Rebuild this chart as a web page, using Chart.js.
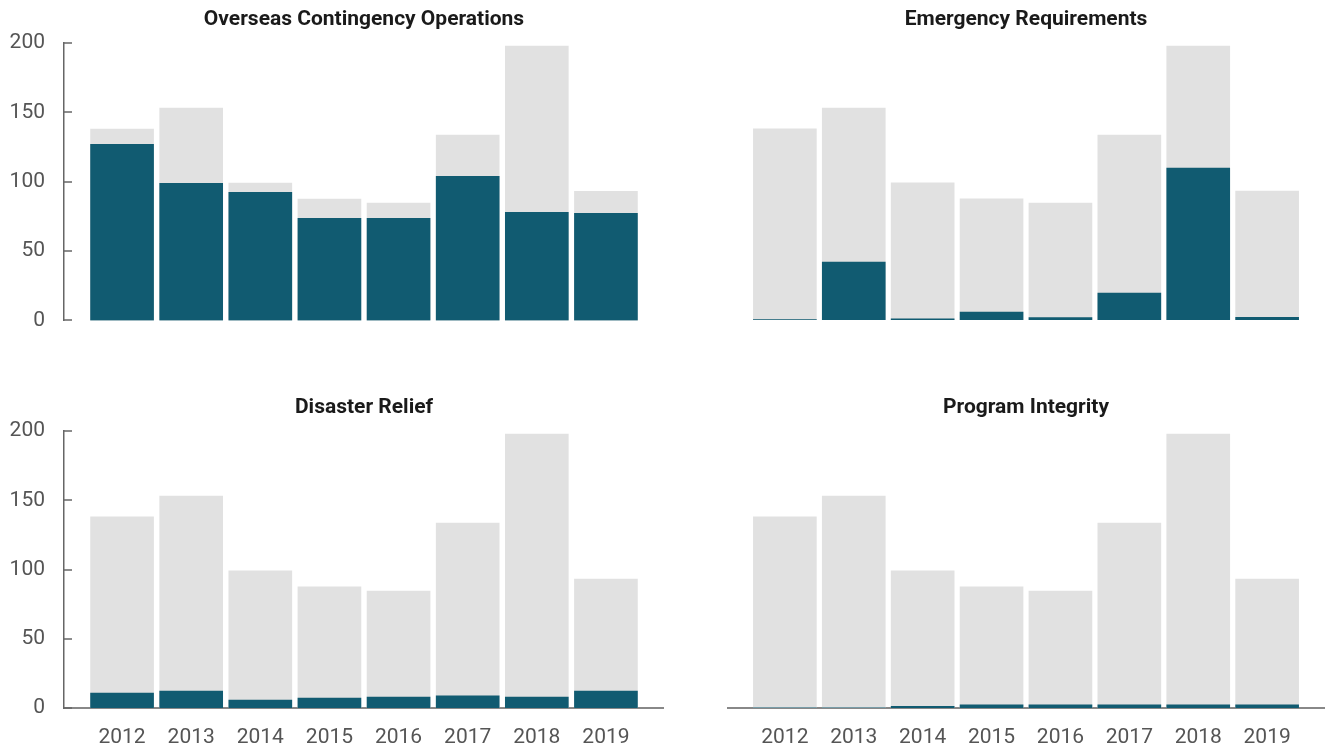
<!DOCTYPE html>
<html>
<head>
<meta charset="utf-8">
<script src="https://cdn.jsdelivr.net/npm/chart.js@4"></script>
<style>
  html, body { margin: 0; padding: 0; background: #fff; }
  #page { position: relative; width: 1325px; height: 746px; }
  .panel { position: absolute; }
</style>
</head>
<body>
<div id="page">
  <div class="panel" style="left:0;top:0;width:664px;height:344px"><canvas id="oco"></canvas></div>
  <div class="panel" style="left:727px;top:0;width:598px;height:340px"><canvas id="emergency"></canvas></div>
  <div class="panel" style="left:0;top:388px;width:664px;height:358px"><canvas id="disaster"></canvas></div>
  <div class="panel" style="left:727px;top:388px;width:598px;height:358px"><canvas id="integrity"></canvas></div>
</div>
<script>
// years + totals (gray bars, same in every panel)
const years = [2012, 2013, 2014, 2015, 2016, 2017, 2018, 2019];
const totals = [138, 153, 99, 87.4, 84.5, 133.6, 197.8, 93.1];

// share of each category (teal bars)
const ocoValues = [126.9, 98.9, 92.3, 73.6, 73.6, 103.9, 77.9, 77.2];
const emergencyValues = [0.3, 41.8, 0.8, 5.8, 1.8, 19.5, 109.6, 2];
const disasterValues = [10.8, 12.3, 5.8, 7.2, 7.9, 8.7, 7.9, 12.3];
const integrityValues = [0.2, 0.2, 1.2, 2.3, 2.3, 2.3, 2.3, 2.3];

const yTicks = [0, 50, 100, 150, 200];

const TEAL = '#115b71';
const GRAY = '#e1e1e1';
const FONT = 'Roboto, "Liberation Sans", sans-serif';

// y ticks in the reference point into the plot, chart.js draws them outward
const innerTicks = {
  id: 'innerTicks',
  afterDraw(chart) {
    const y = chart.scales.y;
    if (!y.options.display) return;
    const ctx = chart.ctx;
    const left = chart.chartArea.left;
    ctx.save();
    ctx.strokeStyle = '#666';
    ctx.lineWidth = 1.5;
    y.ticks.forEach(t => {
      const py = Math.round(y.getPixelForValue(t.value));
      ctx.beginPath();
      ctx.moveTo(left, py);
      ctx.lineTo(left + 8, py);
      ctx.stroke();
    });
    ctx.restore();
  }
};

function makePanel(id, title, values, showY, showX) {
  const ctx = document.getElementById(id);
  new Chart(ctx, {
    type: 'bar',
    data: {
      datasets: [
        {
          label: title,
          data: years.map((yr, i) => ({ x: yr, y: values[i] })),
          backgroundColor: TEAL,
          order: 0
        },
        {
          label: 'Total',
          data: years.map((yr, i) => ({ x: yr, y: totals[i] })),
          backgroundColor: GRAY,
          order: 1
        }
      ]
    },
    options: {
      responsive: true,
      maintainAspectRatio: false,
      animation: false,
      grouped: false,
      barThickness: 63,
      layout: { padding: 0 },
      plugins: {
        legend: { display: false },
        tooltip: { enabled: false },
        title: {
          display: true,
          text: title,
          fullSize: false,
          color: '#1a1a1a',
          font: { family: FONT, size: 21, weight: 'bold' },
          padding: { top: 7, bottom: 10.8 }
        }
      },
      scales: {
        x: {
          type: 'linear',
          min: 2011.16,
          max: 2019.84,
          offset: false,
          grid: { display: false, offset: false },
          border: { display: showX, color: '#888', width: 2 },
          ticks: {
            display: showX,
            stepSize: 1,
            includeBounds: false,
            autoSkip: false,
            maxRotation: 0,
            padding: 9,
            color: '#555',
            font: { family: FONT, size: 21 },
            callback: v => String(v)
          },
          afterFit: s => { s.height = showX ? 38 : 20; }
        },
        y: {
          min: 0,
          max: 200,
          display: showY,
          grid: { display: false },
          border: { display: showY, color: '#666', width: 1.5 },
          afterBuildTicks: s => { s.ticks = yTicks.map(v => ({ value: v })); },
          ticks: {
            padding: 11,
            color: '#555',
            font: { family: FONT, size: 21 }
          },
          afterFit: s => { s.width = showY ? 64 : 0; }
        }
      }
    },
    plugins: [innerTicks]
  });
}

makePanel('oco', 'Overseas Contingency Operations', ocoValues, true, false);
makePanel('emergency', 'Emergency Requirements', emergencyValues, false, false);
makePanel('disaster', 'Disaster Relief', disasterValues, true, true);
makePanel('integrity', 'Program Integrity', integrityValues, false, true);
</script>
</body>
</html>
